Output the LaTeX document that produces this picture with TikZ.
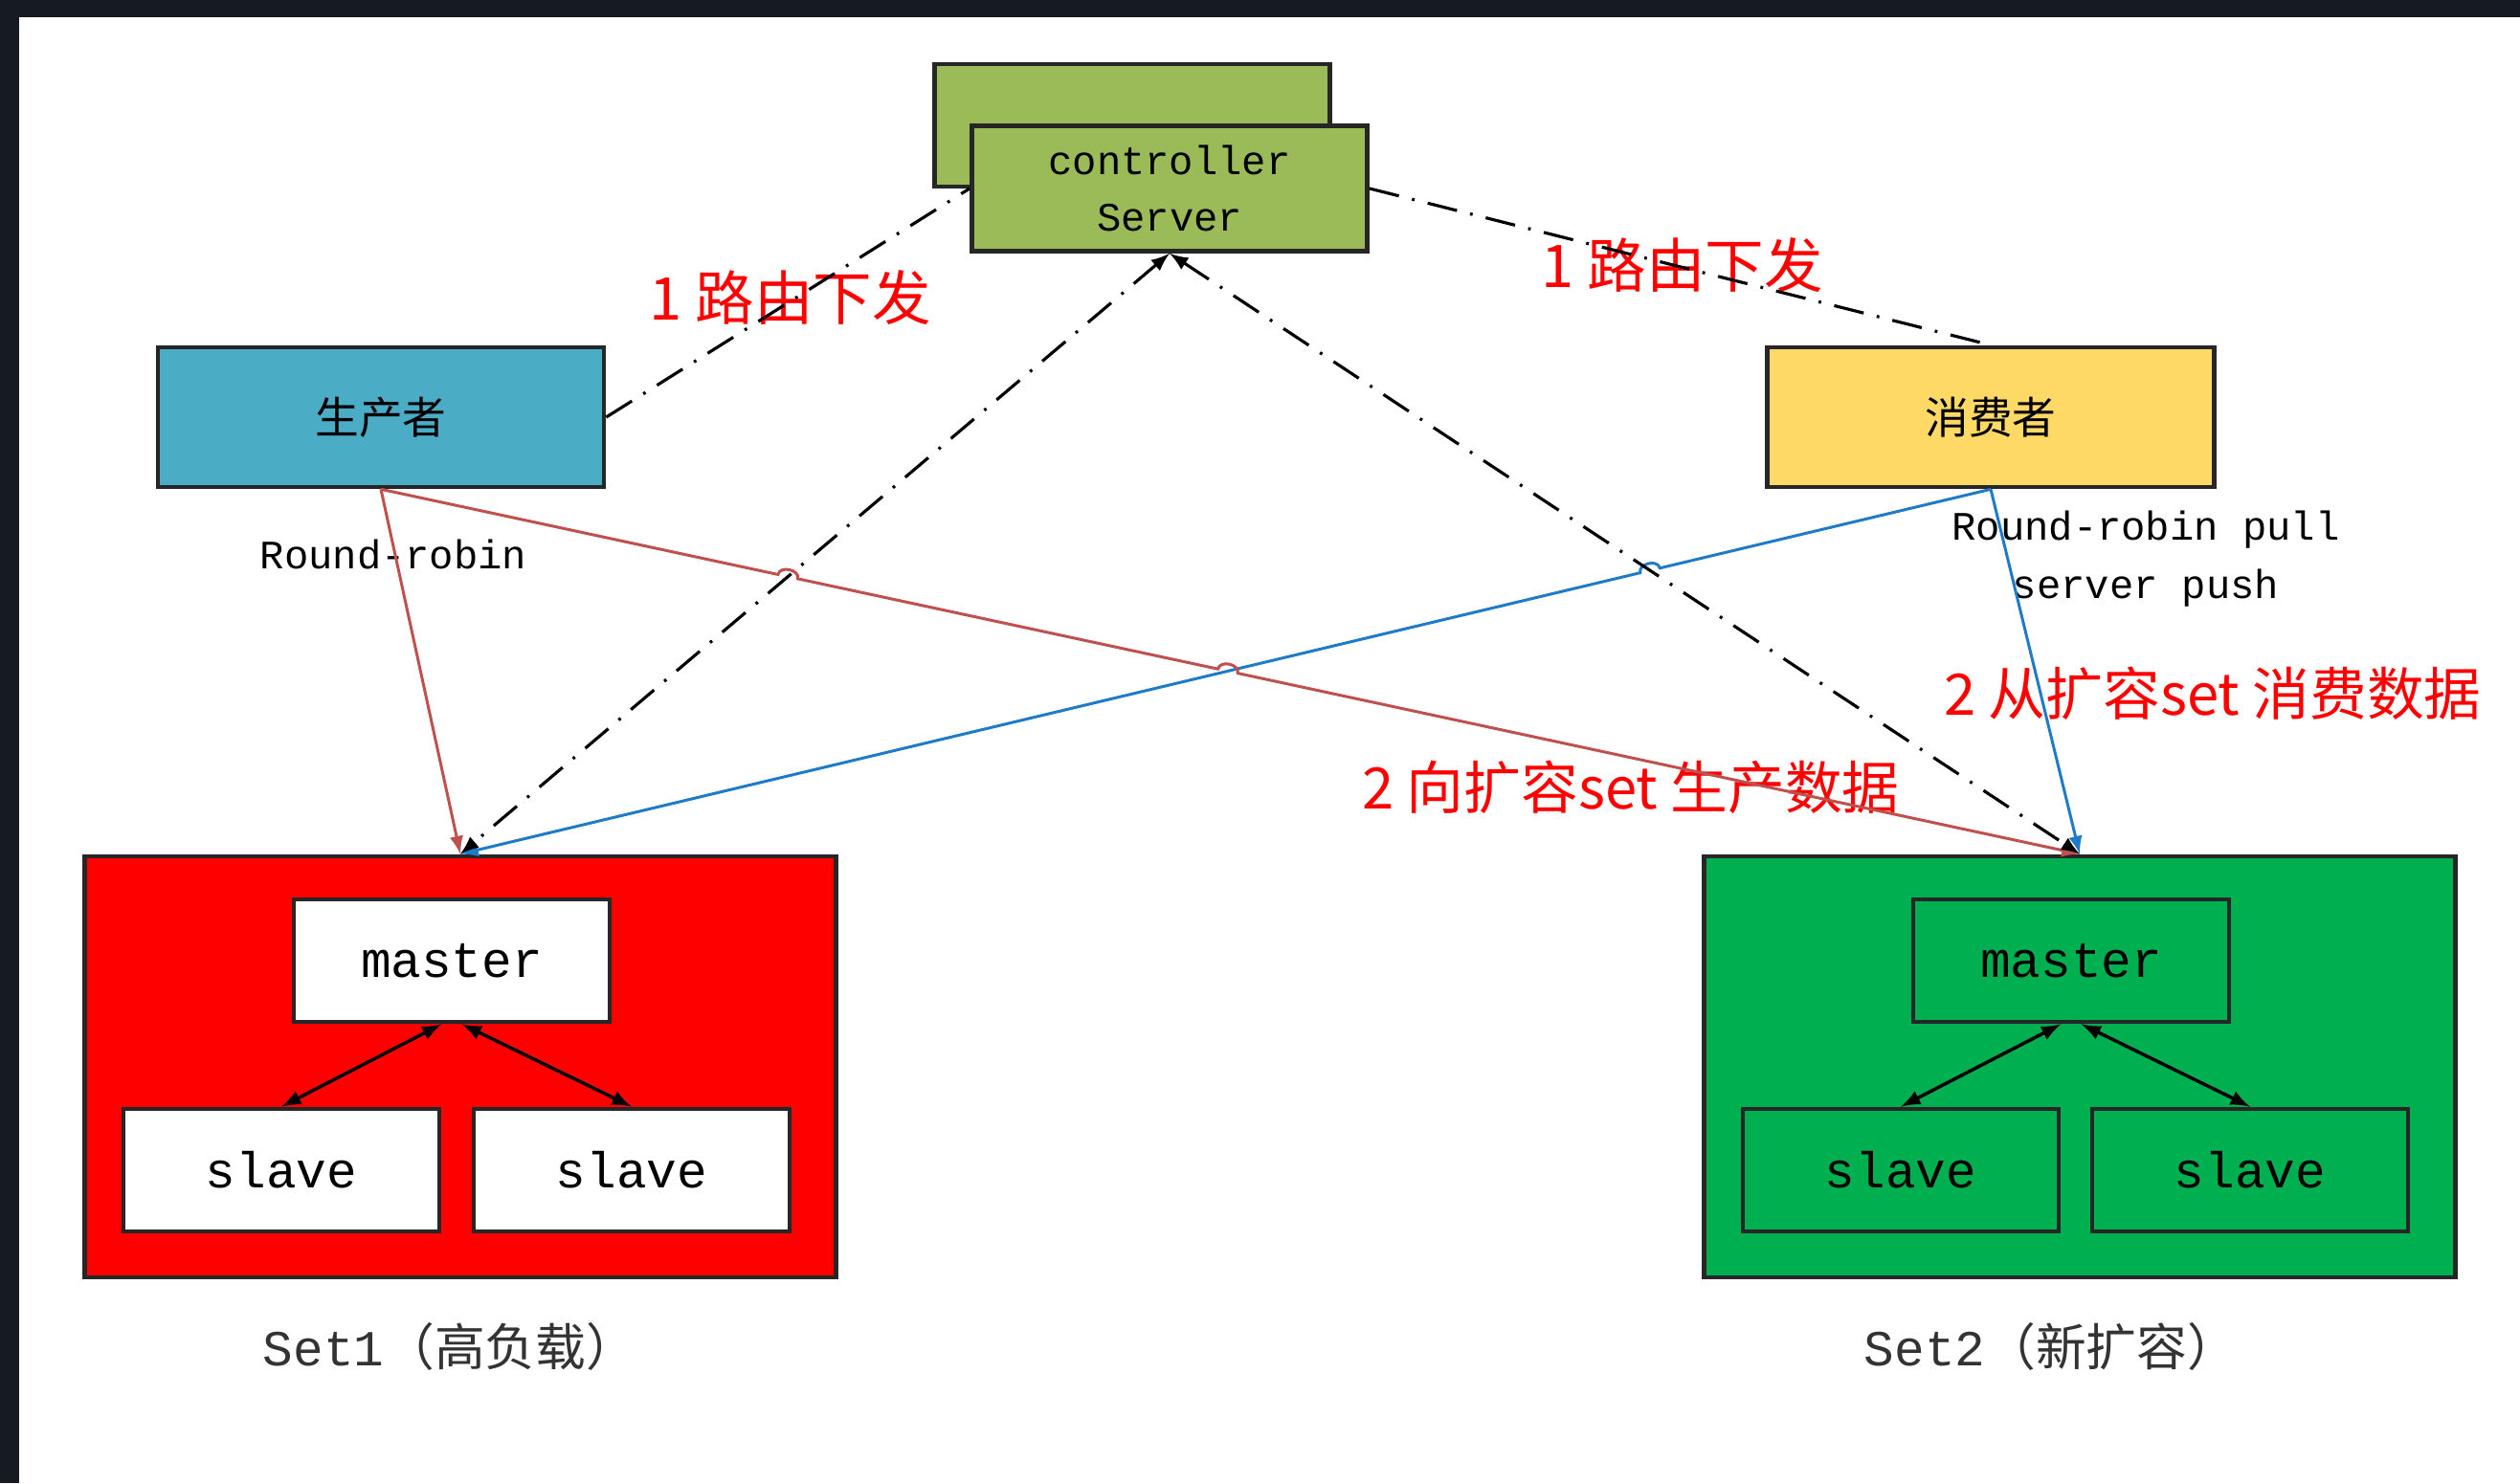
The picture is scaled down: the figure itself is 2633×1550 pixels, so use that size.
\documentclass[tikz,border=0pt]{standalone}
\usepackage{xcolor}
\usepackage{fontspec}
\usepackage{tikz}
\usetikzlibrary{calc,intersections}

\newfontfamily\cjk{Noto Sans CJK SC}
\newfontfamily\mono{Liberation Mono}

\definecolor{ctrlgreen}{HTML}{9BBB59}
\definecolor{prodblue}{HTML}{4BACC6}
\definecolor{consyellow}{HTML}{FFD966}
\definecolor{setred}{HTML}{FF0000}
\definecolor{setgreen}{HTML}{00B050}
\definecolor{linered}{HTML}{C0504D}
\definecolor{lineblue}{HTML}{1F7BC8}
\definecolor{darkframe}{HTML}{161A22}

\begin{document}
\begin{tikzpicture}[x=0.01cm, y=0.01cm,
		box/.style={draw=black!85, line width=1.3pt, inner sep=0pt, align=center},
		setbox/.style={box, minimum width=7.85cm, minimum height=4.4cm},
		member/.style={box, minimum width=3.3cm, minimum height=1.28cm, font=\mono\fontsize{15}{17}\selectfont},
		redtext/.style={text=setred, font=\cjk\fontsize{17.5}{20}\selectfont},
		smalltext/.style={font=\mono\fontsize{12}{17.4}\selectfont, align=center},
		ctrlline/.style={line width=0.9pt, dash pattern=on 9pt off 4pt on 0.8pt off 4pt},
		redline/.style={linered, line width=0.85pt},
		blueline/.style={lineblue, line width=0.85pt},
		hop/.style={bend left=90, looseness=1.2}]

	\useasboundingbox (0,0) rectangle (2633,1550);
	\fill [white] (0,0) rectangle (2633,1550);
	\fill [darkframe] (0,1532) rectangle (2633,1550);
	\fill [darkframe] (0,0) rectangle (20,1550);

	\node [box, fill=ctrlgreen, minimum width=4.13cm, minimum height=1.28cm] (ctrlback) at (1183,1419) {};
	\node [box, fill=ctrlgreen, minimum width=4.13cm, minimum height=1.31cm, font=\mono\fontsize{12}{17}\selectfont] (ctrl) at (1222,1353) {controller\\Server};

	\node [box, fill=prodblue, minimum width=4.66cm, minimum height=1.46cm, font=\cjk\fontsize{13}{15}\selectfont] (prod) at (398,1114) {生产者};
	\node [box, fill=consyellow, minimum width=4.67cm, minimum height=1.46cm, font=\cjk\fontsize{13}{15}\selectfont] (cons) at (2080,1114) {消费者};

	\node [setbox, fill=setred] (set1) at (481,435) {};
	\node [member, fill=white] (m1) at (472,546) {master};
	\node [member, fill=white] (s1a) at (294,327) {slave};
	\node [member, fill=white] (s1b) at (660,327) {slave};

	\node [setbox, fill=setgreen] (set2) at (2173,435) {};
	\node [member, fill=setgreen] (m2) at (2164,546) {master};
	\node [member, fill=setgreen] (s2a) at (1986,327) {slave};
	\node [member, fill=setgreen] (s2b) at (2351,327) {slave};

	\node [text=black!80] (set1lbl) at (470,143) {\fontsize{15}{17}\selectfont{\mono Set1}{\cjk （高负载）}};
	\node [text=black!80] (set2lbl) at (2143,143) {\fontsize{15}{17}\selectfont{\mono Set2}{\cjk （新扩容）}};

	\node [smalltext] (rr1) at (411,971) {Round-robin};
	\node [smalltext] (rr2) at (2242,966) {Round-robin pull\\server push};

	\node [redtext] (route1) at (826,1239) {1 路由下发};
	\node [redtext] (route2) at (1758,1273) {1 路由下发};
	\node [redtext, font=\cjk\fontsize{17}{20}\selectfont] (consume) at (2312,825) {2 从扩容set 消费数据};
	\node [redtext, font=\cjk\fontsize{17}{20}\selectfont] (produce) at (1704,727) {2 向扩容set 生产数据};

	\path [name path=cs1] (ctrl.south) -- (set1.north);
	\path [name path=cs2] (ctrl.south) -- (set2.north);
	\path [name path=ps2] (prod.south) -- (set2.north);
	\path [name path=cn1] (cons.south) -- (set1.north);
	\path [name intersections={of=ps2 and cs1, by=h1}];
	\path [name intersections={of=ps2 and cn1, by=h2}];
	\path [name intersections={of=cn1 and cs2, by=h3}];

	\draw [redline, -latex] (prod.south) -- (set1.north);
	\draw [blueline, -latex] (cons.south) -- ($(h3)!3pt!(cons.south)$) to [bend right=90, looseness=1.2] ($(h3)!3pt!(set1.north)$) -- (set1.north);
	\draw [blueline, -latex] (cons.south) -- (set2.north);
	\draw [redline, -latex] (prod.south) -- ($(h1)!3pt!(prod.south)$) to [hop] ($(h1)!3pt!(set2.north)$)
		-- ($(h2)!3pt!(prod.south)$) to [hop] ($(h2)!3pt!(set2.north)$) -- (set2.north);

	\draw [ctrlline] (prod.east) -- (ctrl.west);
	\draw [ctrlline] (ctrl.east) -- (cons.north);
	\draw [ctrlline, latex-latex] (ctrl.south) -- (set1.north);
	\draw [ctrlline, latex-latex] (ctrl.south) -- (set2.north);

	\draw [line width=1pt, latex-latex] ([xshift=-3pt]m1.south) -- (s1a.north);
	\draw [line width=1pt, latex-latex] ([xshift=3pt]m1.south) -- (s1b.north);
	\draw [line width=1pt, latex-latex] ([xshift=-3pt]m2.south) -- (s2a.north);
	\draw [line width=1pt, latex-latex] ([xshift=3pt]m2.south) -- (s2b.north);
\end{tikzpicture}
\end{document}
